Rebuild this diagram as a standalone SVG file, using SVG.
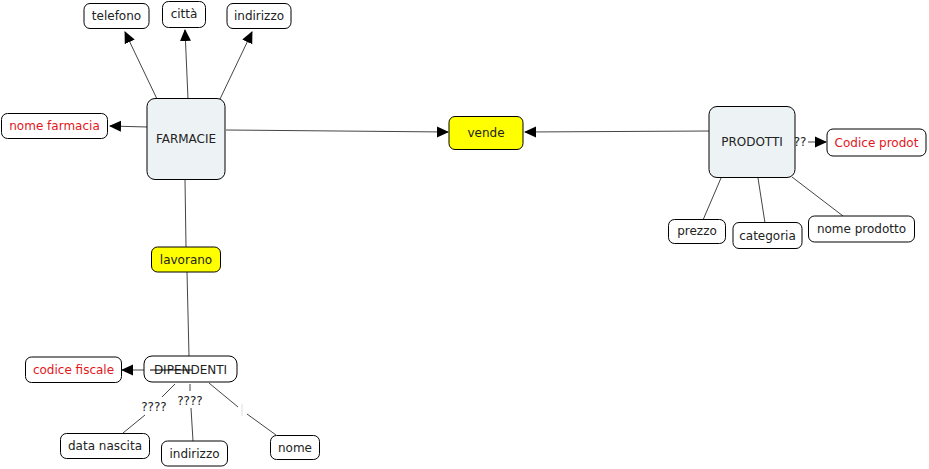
<svg xmlns="http://www.w3.org/2000/svg" width="929" height="469" viewBox="0 0 929 469">
<defs>
<marker id="arr" markerUnits="userSpaceOnUse" markerWidth="12" markerHeight="12" viewBox="0 0 12 12" refX="11" refY="6" orient="auto">
<path d="M0,0.5 L12,6 L0,11.5 Z" fill="#000"/>
</marker>
<style>
.n rect{stroke:#000;stroke-width:1;fill:#fff}
.big rect{fill:#edf3f5}
.hl rect{fill:#ffff00}
text{font-family:"DejaVu Sans","Liberation Sans",sans-serif;font-size:12px;fill:#222;text-anchor:middle}
.red text{fill:#e3161c}
.c line{stroke:#444;stroke-width:1}
.c .a{marker-end:url(#arr)}
.lbl{font-size:12px;fill:#222}
</style>
</defs>
<rect width="929" height="469" fill="#fff"/>
<g class="c">
<line class="a" x1="157" y1="99" x2="125" y2="32"/>
<line class="a" x1="188" y1="99" x2="185" y2="30"/>
<line class="a" x1="220" y1="99" x2="252" y2="32"/>
<line class="a" x1="147" y1="127" x2="110" y2="126"/>
<line class="a" x1="226" y1="130" x2="448" y2="132"/>
<line class="a" x1="709" y1="131" x2="525" y2="132"/>
<line x1="185" y1="180" x2="186" y2="247"/>
<line x1="187" y1="272" x2="189" y2="356"/>
<line class="a" x1="192" y1="370" x2="122" y2="370"/>
<line x1="175" y1="384" x2="162" y2="397"/>
<line x1="145" y1="415" x2="123" y2="433"/>
<text class="lbl" x="154" y="411">????</text>
<line x1="190" y1="384" x2="190" y2="391"/>
<text class="lbl" x="190" y="405">????</text>
<line x1="191" y1="408" x2="193" y2="441"/>
<line x1="209" y1="383" x2="238" y2="407"/>
<line x1="242" y1="404" x2="242" y2="416" style="stroke:#ddd"/>
<line x1="247" y1="414" x2="276" y2="435"/>
<text class="lbl" x="800" y="146">??</text>
<line class="a" x1="808" y1="142" x2="826" y2="142"/>
<line x1="721" y1="178" x2="703" y2="220"/>
<line x1="758" y1="178" x2="765" y2="223"/>
<line x1="792" y1="177" x2="843" y2="216"/>
</g>
<g id="telefono" class="n"><rect x="84" y="3.5" width="65" height="25" rx="6"/><text x="116.5" y="20">telefono</text></g>
<g id="citta" class="n"><rect x="162.5" y="1.5" width="43" height="26" rx="6"/><text x="184" y="18">città</text></g>
<g id="indirizzo1" class="n"><rect x="227" y="3.5" width="64" height="25" rx="6"/><text x="259" y="20">indirizzo</text></g>
<g id="nomefarmacia" class="n red"><rect x="1.5" y="113.5" width="106" height="25" rx="6"/><text x="54.5" y="130">nome farmacia</text></g>
<g id="farmacie" class="n big"><rect x="147" y="98.5" width="78" height="81" rx="8"/><text x="186" y="143">FARMACIE</text></g>
<g id="vende" class="n hl"><rect x="449" y="116.5" width="74" height="33" rx="6"/><text x="486" y="137">vende</text></g>
<g id="lavorano" class="n hl"><rect x="151.5" y="247" width="69" height="25" rx="6"/><text x="186" y="264">lavorano</text></g>
<g id="prodotti" class="n big"><rect x="709" y="106.5" width="86" height="71" rx="8"/><text x="752" y="146">PRODOTTI</text></g>
<g id="codiceprodot" class="n red"><rect x="827" y="129" width="99" height="27" rx="6"/><text x="876.5" y="146.5">Codice prodot</text></g>
<g id="prezzo" class="n"><rect x="668.5" y="219.5" width="57" height="24" rx="6"/><text x="697" y="235">prezzo</text></g>
<g id="categoria" class="n"><rect x="733" y="222.5" width="69" height="26" rx="6"/><text x="767.5" y="240">categoria</text></g>
<g id="nomeprodotto" class="n"><rect x="808.5" y="216" width="106" height="26" rx="6"/><text x="861.5" y="233">nome prodotto</text></g>
<g id="dipendenti" class="n"><rect x="144" y="356" width="93" height="26" rx="8"/><text x="190.5" y="373.5">DIPENDENTI</text></g>
<line x1="192" y1="370" x2="150" y2="370" stroke="#000" stroke-width="1"/>
<g id="codicefiscale" class="n red"><rect x="25.5" y="357" width="96" height="25.5" rx="6"/><text x="73.5" y="374">codice fiscale</text></g>
<g id="datanascita" class="n"><rect x="60.5" y="433.5" width="89" height="25" rx="6"/><text x="105" y="450">data nascita</text></g>
<g id="indirizzo2" class="n"><rect x="161.5" y="441" width="66" height="25" rx="6"/><text x="194.5" y="458">indirizzo</text></g>
<g id="nome" class="n"><rect x="270.5" y="435.5" width="49" height="24" rx="6"/><text x="295" y="452">nome</text></g>
</svg>
